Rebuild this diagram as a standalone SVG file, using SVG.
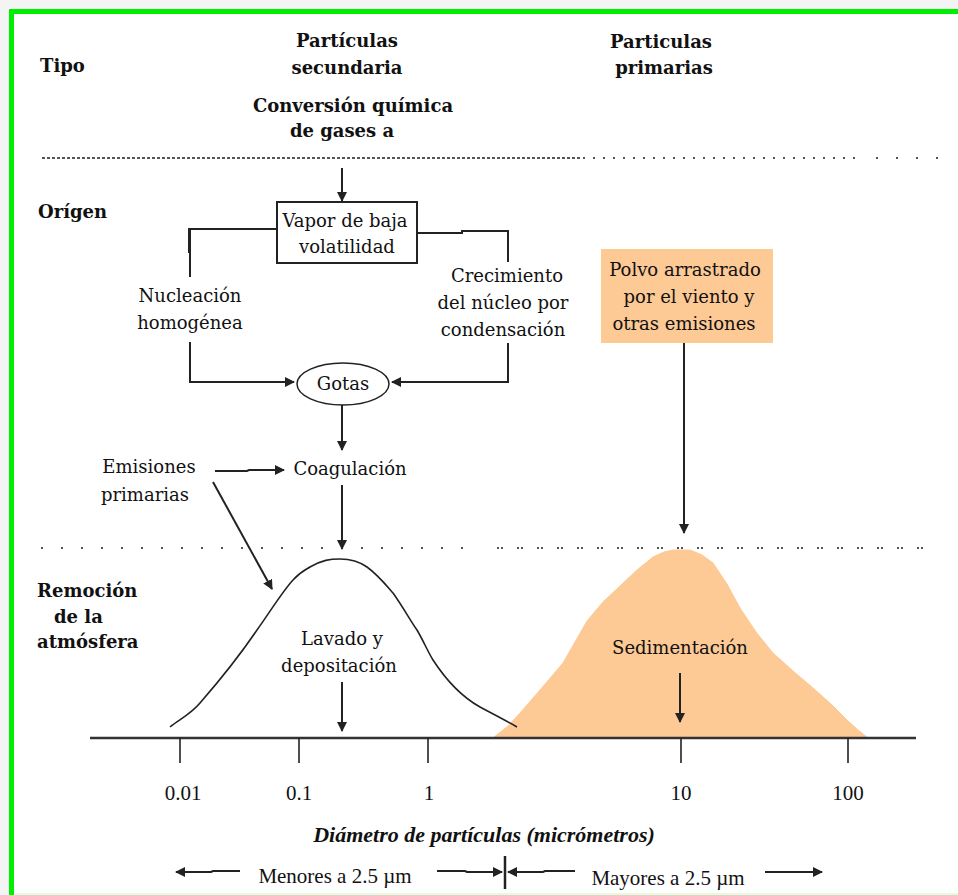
<svg xmlns="http://www.w3.org/2000/svg" width="958" height="895" viewBox="0 0 958 895">
  <style>
    .h { font-family: "DejaVu Serif", "Liberation Serif", serif; font-weight: bold; font-size: 18px; fill: #111; }
    .t { font-family: "DejaVu Serif", "Liberation Serif", serif; font-size: 18px; fill: #111; }
    .n { font-family: "Liberation Serif", "Times New Roman", serif; font-size: 21px; fill: #111; }
    .ax { font-family: "Liberation Serif", "Times New Roman", serif; font-size: 22px; font-weight: bold; font-style: italic; fill: #111; }
    .ln { fill: none; stroke: #222; stroke-width: 2; }
    .arr { fill: none; stroke: #222; stroke-width: 2; marker-end: url(#ah); }
  </style>
  <defs>
    <marker id="ah" viewBox="0 0 10 10" refX="9" refY="5" markerWidth="5" markerHeight="5" orient="auto" markerUnits="strokeWidth">
      <path d="M0,0 L10,5 L0,10 z" fill="#222"/>
    </marker>
  </defs>

  <!-- page and frame -->
  <rect x="0" y="0" width="958" height="895" fill="#f4f4f4"/>
  <rect x="11" y="11" width="947" height="884" fill="#ffffff"/>
  <line x1="11.5" y1="9" x2="11.5" y2="895" stroke="#00ee00" stroke-width="5"/>
  <line x1="9" y1="11.5" x2="958" y2="11.5" stroke="#00ee00" stroke-width="5"/>
  <line x1="14" y1="894" x2="958" y2="894" stroke="#dcffdc" stroke-width="2"/>

  <!-- row headings -->
  <g id="heading-tipo"><text class="h" x="40" y="72">Tipo</text></g>
  <g id="heading-origen"><text class="h" x="38" y="218">Orígen</text></g>
  <g id="heading-remocion">
    <text class="h" x="37" y="597">Remoción</text>
    <text class="h" x="54" y="623">de la</text>
    <text class="h" x="37" y="648">atmósfera</text>
  </g>

  <!-- column headings -->
  <g id="col-secundarias" text-anchor="middle">
    <text class="h" x="347" y="47">Partículas</text>
    <text class="h" x="347" y="74">secundaria</text>
    <text class="h" x="353" y="112" font-size="19">Conversión química</text>
    <text class="h" x="342" y="137" font-size="19">de gases a</text>
  </g>
  <g id="col-primarias" text-anchor="middle">
    <text class="h" x="661" y="48">Particulas</text>
    <text class="h" x="664" y="74">primarias</text>
  </g>

  <!-- dotted separators -->
  <g id="separators" fill="none" stroke="#555" stroke-width="2">
    <line x1="42" y1="158" x2="580" y2="158" stroke-dasharray="3 2"/>
    <line x1="583" y1="158" x2="862" y2="158" stroke-dasharray="2 8"/>
    <line x1="876" y1="158" x2="940" y2="158" stroke-dasharray="2 18"/>
    <line x1="41" y1="548" x2="480" y2="548" stroke-dasharray="2 18"/>
    <line x1="497" y1="548" x2="925" y2="548" stroke-dasharray="2 2 2 14"/>
  </g>

  <!-- size distributions -->
  <g id="coarse-mode">
    <path d="M493,738 L508,726 L520,713 L540,690 L563,663 L575,642 L587,621 L603,602 L620,586 L637,570 L653,557 L664,552 L673,550 L690,550 L702,555 L713,563 L727,584 L740,608 L756,632 L773,653 L793,671 L813,688 L831,704 L847,720 L858,730 L868,738 Z" fill="#fdc995" stroke="#fdc995" stroke-width="1" stroke-linejoin="round"/>
  </g>
  <g id="fine-mode">
    <path d="M170,727 C178,720 190,715 200,703 C220,680 240,655 257,630 C270,612 282,592 293,580 C300,572 305,570 310,567 C322,560 330,559 340,559 C352,559 360,562 367,567 C378,575 386,585 393,593 C403,607 410,620 417,630 C424,642 428,652 433,660 C448,683 462,697 480,707 C493,714 505,720 517,727" fill="none" stroke="#222" stroke-width="1.6"/>
  </g>

  <!-- axis -->
  <g id="axis">
    <line x1="90" y1="738" x2="916" y2="738" stroke="#333" stroke-width="2.5"/>
    <g stroke="#222" stroke-width="1.6">
      <line x1="180" y1="738" x2="180" y2="763"/>
      <line x1="299" y1="738" x2="299" y2="763"/>
      <line x1="428" y1="738" x2="428" y2="763"/>
      <line x1="681" y1="738" x2="681" y2="763"/>
      <line x1="848" y1="738" x2="848" y2="763"/>
    </g>
    <g text-anchor="middle">
      <text class="n" x="183" y="800">0.01</text>
      <text class="n" x="299" y="800">0.1</text>
      <text class="n" x="429" y="800">1</text>
      <text class="n" x="681" y="800">10</text>
      <text class="n" x="848" y="800">100</text>
    </g>
    <text class="ax" x="484" y="842" text-anchor="middle">Diámetro de partículas (micrómetros)</text>
  </g>

  <!-- nodes -->
  <g id="vapor">
    <rect x="277" y="202" width="140" height="61" fill="#fff" stroke="#222" stroke-width="2"/>
    <text class="t" x="345" y="227" text-anchor="middle">Vapor de baja</text>
    <text class="t" x="347" y="253" text-anchor="middle">volatilidad</text>
  </g>
  <g id="nucleacion">
    <text class="t" x="190" y="302" text-anchor="middle">Nucleación</text>
    <text class="t" x="190" y="329" text-anchor="middle">homogénea</text>
  </g>
  <g id="crecimiento">
    <text class="t" x="507" y="282" text-anchor="middle">Crecimiento</text>
    <text class="t" x="503" y="309" text-anchor="middle">del núcleo por</text>
    <text class="t" x="503" y="336" text-anchor="middle">condensación</text>
  </g>
  <g id="polvo">
    <rect x="601" y="249" width="172" height="94" fill="#fdc995"/>
    <text class="t" x="685" y="276" text-anchor="middle">Polvo arrastrado</text>
    <text class="t" x="689" y="303" text-anchor="middle">por el viento y</text>
    <text class="t" x="684" y="330" text-anchor="middle">otras emisiones</text>
  </g>
  <g id="gotas">
    <ellipse cx="343" cy="384" rx="46" ry="21" fill="#fff" stroke="#222" stroke-width="1.5"/>
    <text class="t" x="343" y="390" text-anchor="middle">Gotas</text>
  </g>
  <g id="coagulacion">
    <text class="t" x="350" y="475" text-anchor="middle">Coagulación</text>
  </g>
  <g id="emisiones">
    <text class="t" x="149" y="473" text-anchor="middle">Emisiones</text>
    <text class="t" x="145" y="501" text-anchor="middle">primarias</text>
  </g>
  <g id="lavado">
    <text class="t" x="342" y="645" text-anchor="middle">Lavado y</text>
    <text class="t" x="339" y="672" text-anchor="middle">depositación</text>
  </g>
  <g id="sedimentacion">
    <text class="t" x="680" y="654" text-anchor="middle">Sedimentación</text>
  </g>
  <g id="menores">
    <text class="n" x="335" y="883" text-anchor="middle" font-size="23">Menores a 2.5 µm</text>
  </g>
  <g id="mayores">
    <text class="n" x="668" y="885" text-anchor="middle" font-size="23">Mayores a 2.5 µm</text>
  </g>

  <!-- connectors -->
  <g id="connectors">
    <line class="arr" x1="342" y1="168" x2="342" y2="201"/>
    <polyline class="ln" points="277,229 189,229 189,253"/>
    <line class="ln" x1="190" y1="228" x2="190" y2="277"/>
    <polyline class="arr" points="190,342 190,382 294,382"/>
    <polyline class="ln" points="417,233 462,233 462,231 508,231 508,262"/>
    <polyline class="arr" points="508,343 508,382 392,382"/>
    <line class="arr" x1="342" y1="405" x2="342" y2="450"/>
    <polyline class="arr" points="215,471 247,471 249,470 284,470"/>
    <line class="arr" x1="213" y1="482" x2="272" y2="589"/>
    <line class="arr" x1="342" y1="485" x2="342" y2="549"/>
    <line class="arr" x1="684" y1="343" x2="684" y2="533"/>
    <line class="arr" x1="342" y1="682" x2="342" y2="731"/>
    <line class="arr" x1="680" y1="673" x2="680" y2="722"/>
    <polyline class="arr" points="240,871 213,871 211,872 176,872"/>
    <polyline class="arr" points="437,871 465,871 467,872 502,872"/>
    <line x1="505" y1="856" x2="505" y2="889" stroke="#222" stroke-width="2.5"/>
    <polyline class="arr" points="575,871 545,871 543,872 508,872"/>
    <line class="arr" x1="765" y1="872" x2="822" y2="872"/>
  </g>
</svg>
